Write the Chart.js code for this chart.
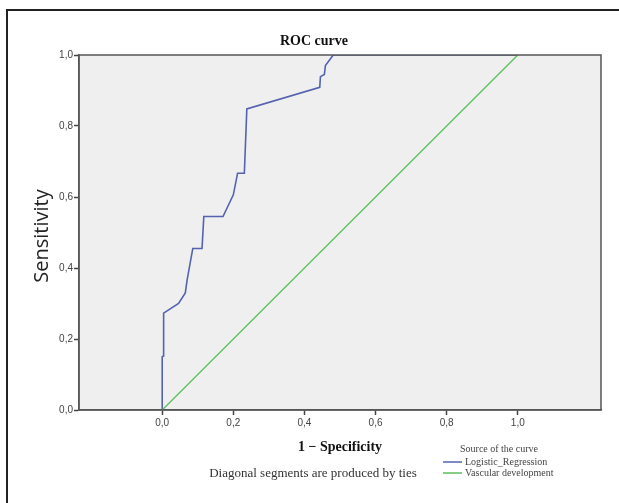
<!DOCTYPE html>
<html>
<head>
<meta charset="utf-8">
<script src="https://cdn.jsdelivr.net/npm/chart.js@4"></script>
<style>
  html, body { margin: 0; padding: 0; background: #fff; }
  #wrap { width: 619px; height: 503px; position: relative; }
</style>
</head>
<body>
<div id="wrap"><canvas id="roc"></canvas></div>
<script>
// ROC curve points (1 - specificity, sensitivity)
const logisticX = [0, 0, 0.004, 0.004, 0.046, 0.065, 0.07, 0.086, 0.112, 0.117, 0.171, 0.2, 0.212, 0.231, 0.238, 0.443, 0.445, 0.456, 0.459, 0.481, 1];
const logisticY = [0, 0.15, 0.152, 0.273, 0.30, 0.33, 0.366, 0.455, 0.455, 0.545, 0.545, 0.606, 0.667, 0.667, 0.848, 0.909, 0.939, 0.945, 0.97, 1, 1];
// reference line
const vascularX = [0, 1];
const vascularY = [0, 1];

const seriesNames = ['Logistic_Regression', 'Vascular development'];
const seriesColors = ['#5562b0', '#5cbf5c'];
const tickValues = [0, 0.2, 0.4, 0.6, 0.8, 1];

function toPoints(xs, ys) {
    return xs.map((x, i) => ({ x: x, y: ys[i] }));
}

function fmt(v) {
    return v.toFixed(1).replace('.', ',');
}

// Fondo gris del área, marco y textos al estilo SPSS
const spssDecor = {
    id: 'spssDecor',
    beforeDraw(chart) {
        const { ctx, chartArea: a } = chart;
        ctx.save();
        ctx.fillStyle = '#efefef';
        ctx.fillRect(a.left, a.top, a.right - a.left, a.bottom - a.top);
        ctx.restore();
    },
    afterDraw(chart) {
        const { ctx, chartArea: a } = chart;
        ctx.save();
        // marco exterior (solo izquierda y arriba visibles)
        ctx.strokeStyle = '#222';
        ctx.lineWidth = 2;
        ctx.beginPath();
        ctx.moveTo(7, 503);
        ctx.lineTo(7, 10);
        ctx.lineTo(619, 10);
        ctx.stroke();

        // marco del área
        ctx.strokeStyle = '#555';
        ctx.lineWidth = 1.5;
        ctx.strokeRect(a.left, a.top, a.right - a.left, a.bottom - a.top);

        ctx.fillStyle = '#111';
        ctx.textAlign = 'center';
        ctx.textBaseline = 'middle';
        ctx.font = 'bold 14px "Liberation Serif"';
        ctx.fillText('ROC curve', 314, 41);

        ctx.font = 'bold 14px "Liberation Serif"';
        ctx.fillText('1 \u2212 Specificity', 340, 447);

        ctx.font = '13px "Liberation Serif"';
        ctx.fillStyle = '#333';
        ctx.fillText('Diagonal segments are produced by ties', 313, 474);

        // eje Y
        ctx.save();
        ctx.translate(42, 236);
        ctx.rotate(-Math.PI / 2);
        ctx.font = '20px "Open Sans"';
        ctx.fillStyle = '#222';
        ctx.fillText('Sensitivity', 0, 0);
        ctx.restore();

        // leyenda
        ctx.font = '10px "Liberation Serif"';
        ctx.fillStyle = '#444';
        ctx.fillText('Source of the curve', 499, 449);
        ctx.textAlign = 'left';
        seriesNames.forEach((name, i) => {
            const y = 462 + i * 11;
            ctx.strokeStyle = seriesColors[i];
            ctx.lineWidth = 1.5;
            ctx.beginPath();
            ctx.moveTo(443, y);
            ctx.lineTo(462, y);
            ctx.stroke();
            ctx.fillText(name, 465, y);
        });
        ctx.restore();
    }
};

new Chart(document.getElementById('roc'), {
    type: 'scatter',
    data: {
        datasets: [{
            label: seriesNames[1],
            data: toPoints(vascularX, vascularY),
            showLine: true,
            borderColor: seriesColors[1],
            borderWidth: 1.3,
            pointRadius: 0,
            tension: 0
        }, {
            label: seriesNames[0],
            data: toPoints(logisticX, logisticY),
            showLine: true,
            borderColor: seriesColors[0],
            borderWidth: 1.6,
            pointRadius: 0,
            tension: 0
        }]
    },
    options: {
        responsive: true,
        maintainAspectRatio: false,
        animation: false,
        layout: { padding: { top: 55, right: 18, left: 0, bottom: 0 } },
        plugins: {
            legend: { display: false },
            title: { display: false },
            tooltip: { enabled: false }
        },
        scales: {
            x: {
                type: 'linear',
                min: -0.234,
                max: 1.234,
                afterFit(scale) { scale.height = 93; },
                afterBuildTicks(scale) { scale.ticks = tickValues.map(v => ({ value: v })); },
                grid: { drawOnChartArea: false, drawTicks: true, tickLength: 5, color: '#444', tickWidth: 1.5 },
                border: { display: true, color: '#555', width: 1.5 },
                ticks: {
                    padding: 2,
                    color: '#444',
                    font: { family: 'Liberation Sans', size: 10 },
                    callback: v => fmt(v)
                }
            },
            y: {
                type: 'linear',
                min: 0,
                max: 1,
                afterFit(scale) { scale.width = 79; },
                afterBuildTicks(scale) { scale.ticks = tickValues.map(v => ({ value: v })); },
                grid: { drawOnChartArea: false, drawTicks: true, tickLength: 5, color: '#444', tickWidth: 1.5 },
                border: { display: true, color: '#555', width: 1.5 },
                ticks: {
                    padding: 1,
                    color: '#444',
                    font: { family: 'Liberation Sans', size: 10 },
                    callback: v => fmt(v)
                }
            }
        }
    },
    plugins: [spssDecor]
});
</script>
</body>
</html>
